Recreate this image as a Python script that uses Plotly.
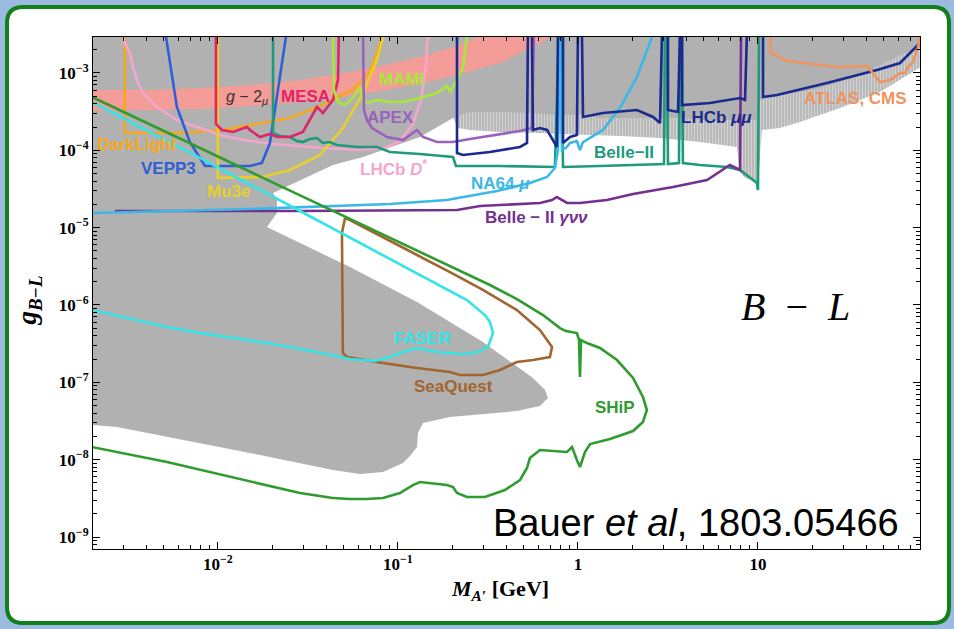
import numpy as np
import plotly.graph_objects as go

# Curves are tabulated as (log10(M_A' / GeV), log10(g_B-L)) pairs.

# excluded parameter space (solid grey) and the fluctuating bump-hunt region below it
EXCLUDED = [(-2.70, -2.50), (1.95, -2.50), (1.95, -2.638), (1.789, -2.767), (1.678, -2.897),
            (1.567, -3.026), (1.456, -3.117), (1.344, -3.194), (1.233, -3.246), (1.122, -3.285),
            (1.039, -3.311), (1.011, -3.349), (0.994, -3.608), (0.678, -3.608), (0.567, -3.582),
            (0.122, -3.582), (0.028, -3.543), (-0.100, -3.543), (-0.267, -3.518), (-0.433, -3.505),
            (-0.600, -3.505), (-0.656, -3.543), (-0.694, -3.582), (-0.878, -3.828), (-1.194, -4.087),
            (-1.361, -4.190), (-1.544, -4.384), (-1.694, -4.552), (-1.672, -4.643), (-1.672, -4.811),
            (-1.728, -4.992), (-1.544, -5.199), (-1.267, -5.509), (-0.894, -5.962), (-0.528, -6.479),
            (-0.250, -6.944), (-0.183, -7.100), (-0.167, -7.203), (-0.211, -7.307), (-0.339, -7.371),
            (-0.528, -7.410), (-0.711, -7.449), (-0.861, -7.526), (-0.889, -7.656), (-0.894, -7.837),
            (-0.933, -7.953), (-0.972, -8.044), (-1.083, -8.160), (-1.211, -8.186), (-1.361, -8.134),
            (-1.822, -7.914), (-2.561, -7.578), (-2.70, -7.552)]

EXCLUDED_FLUCT = [(-0.711, -2.50), (1.95, -2.50), (1.95, -2.858), (1.789, -3.091), (1.678, -3.246),
                  (1.567, -3.349), (1.456, -3.453), (1.344, -3.543), (1.233, -3.634), (1.122, -3.712),
                  (1.022, -3.737), (1.000, -4.410), (0.928, -4.358), (0.900, -4.281), (0.883, -3.957),
                  (0.678, -3.893), (0.456, -3.841), (0.233, -3.815), (0.028, -3.802), (-0.100, -3.789),
                  (-0.211, -3.776), (-0.433, -3.763), (-0.600, -3.737), (-0.667, -3.712), (-0.694, -3.582)]

# muon g-2 preferred band
G2_UPPER = [(-2.70, -3.220), (-2.378, -3.220), (-2.100, -3.194), (-1.822, -3.155), (-1.544, -3.091),
            (-1.322, -3.013), (-1.100, -2.910), (-0.878, -2.793), (-0.656, -2.638), (-0.489, -2.470)]
G2_LOWER = [(-0.100, -2.470), (-0.267, -2.677), (-0.433, -2.871), (-0.656, -3.013), (-0.878, -3.142),
            (-1.100, -3.233), (-1.322, -3.311), (-1.544, -3.375), (-1.822, -3.427), (-2.100, -3.466),
            (-2.378, -3.479), (-2.70, -3.492)]

DARKLIGHT = [(-2.517, -2.45), (-2.517, -3.776), (-2.211, -3.776), (-1.972, -3.737), (-1.783, -3.660),
             (-1.600, -3.582), (-1.433, -3.427), (-1.250, -3.220), (-1.156, -2.987), (-1.083, -2.535),
             (-1.072, -2.45)]

VEPP3 = [(-2.294, -2.45), (-2.228, -3.440), (-2.156, -3.893), (-2.072, -4.203), (-1.822, -4.203),
         (-1.756, -4.164), (-1.711, -3.905), (-1.672, -3.311), (-1.617, -2.45)]

MESA = [(-2.011, -2.45), (-2.011, -3.660), (-1.978, -3.737), (-1.917, -3.763), (-1.839, -3.699),
        (-1.822, -3.737), (-1.767, -3.828), (-1.711, -3.789), (-1.672, -3.828), (-1.600, -3.828),
        (-1.528, -3.763), (-1.450, -3.440), (-1.417, -3.518), (-1.361, -3.349), (-1.333, -3.091),
        (-1.328, -2.45)]

MU3E = [(-2.000, -2.45), (-2.000, -4.358), (-1.756, -4.345), (-1.600, -4.255), (-1.433, -4.061),
        (-1.306, -3.712), (-1.194, -3.259), (-1.117, -2.832), (-1.072, -2.45)]

LHCB_DSTAR = [(-2.533, -2.45), (-2.517, -2.612), (-2.489, -2.742), (-2.472, -2.923), (-2.450, -3.091),
              (-2.417, -3.259), (-2.339, -3.440), (-2.228, -3.608), (-2.100, -3.712), (-1.972, -3.815),
              (-1.822, -3.880), (-1.694, -3.918), (-1.417, -3.970), (-1.211, -3.996), (-1.072, -3.970),
              (-0.989, -3.880), (-0.917, -3.660), (-0.872, -3.349), (-0.844, -2.897), (-0.833, -2.45)]

BELLE2 = [(-1.694, -2.45), (-1.694, -3.776), (-1.656, -3.815), (-1.600, -3.828), (-1.561, -3.880),
          (-1.528, -3.893), (-1.489, -3.854), (-1.450, -3.841), (-1.417, -3.905), (-1.378, -3.893),
          (-1.339, -3.931), (-1.228, -3.957), (-1.117, -3.957), (-1.044, -4.022), (-0.878, -4.048),
          (-0.694, -4.087), (-0.678, -4.203), (-0.433, -4.203), (-0.128, -4.216), (-0.106, -2.45),
          (-0.094, -2.45), (-0.083, -4.216), (0.122, -4.203), (0.344, -4.190), (0.478, -4.177),
          (0.483, -2.45), (0.494, -2.45), (0.500, -4.177), (0.561, -4.164), (0.567, -2.45),
          (0.578, -2.45), (0.583, -4.164), (0.678, -4.190), (0.828, -4.216), (0.900, -4.255),
          (0.994, -4.423), (1.000, -4.513), (1.006, -2.45)]

NA64_MU = [(-2.70, -4.811), (-1.822, -4.759), (-1.044, -4.694), (-0.728, -4.643), (-0.450, -4.526),
           (-0.267, -4.423), (-0.172, -4.345), (-0.128, -4.229), (-0.111, -3.996), (-0.100, -2.573),
           (-0.089, -3.996), (-0.067, -3.970), (-0.044, -3.905), (-0.006, -3.880), (0.011, -3.996),
           (0.028, -3.893), (0.139, -3.737), (0.233, -3.453), (0.328, -3.052), (0.411, -2.535),
           (0.456, -2.315)]

BELLE2_INV = [(-2.572, -4.785), (-1.544, -4.785), (-0.672, -4.772), (-0.544, -4.720), (-0.211, -4.681),
              (-0.144, -4.643), (-0.117, -4.604), (-0.061, -4.681), (0.011, -4.681), (0.161, -4.643),
              (0.306, -4.565), (0.528, -4.474), (0.717, -4.384), (0.844, -4.190), (0.900, -4.255),
              (0.906, -2.45)]

APEX = [(-1.194, -2.45), (-1.189, -3.479), (-1.172, -3.608), (-1.144, -3.712), (-1.061, -3.828),
        (-0.972, -3.867), (-0.894, -3.737), (-0.861, -3.828), (-0.783, -3.893), (-0.694, -3.893),
        (-0.600, -3.854), (-0.433, -3.789), (-0.322, -3.750), (-0.256, -3.712), (-0.244, -2.45)]

MAMI = [(-1.361, -2.45), (-1.356, -3.220), (-1.333, -3.375), (-1.294, -3.414), (-1.250, -3.324),
        (-1.211, -3.181), (-1.194, -3.388), (-1.156, -3.375), (-1.117, -3.349), (-1.044, -3.375),
        (-0.972, -3.375), (-0.878, -3.324), (-0.783, -3.259), (-0.728, -3.168), (-0.711, -3.246),
        (-0.672, -3.091), (-0.639, -2.923), (-0.611, -2.45)]

LHCB_MUMU = [(-0.672, -2.45), (-0.672, -4.035), (-0.639, -4.061), (-0.489, -4.022), (-0.322, -3.957),
             (-0.283, -3.905), (-0.278, -2.45), (-0.256, -2.45), (-0.250, -3.737), (-0.211, -3.712),
             (-0.172, -3.737), (-0.139, -3.867), (-0.117, -3.957), (-0.111, -2.45), (-0.083, -2.45),
             (-0.083, -3.905), (-0.044, -3.828), (-0.006, -3.802), (0.0, -2.45), (0.022, -2.45),
             (0.028, -3.569), (0.139, -3.518), (0.328, -3.479), (0.417, -3.569), (0.456, -3.647),
             (0.467, -2.45), (0.500, -2.45), (0.500, -3.479), (0.556, -3.505), (0.567, -2.45),
             (0.578, -2.45), (0.578, -3.414), (0.733, -3.388), (0.900, -3.324), (0.928, -3.349),
             (0.939, -2.45), (1.028, -2.45), (1.028, -3.311), (1.106, -3.285), (1.383, -3.130),
             (1.661, -2.961), (1.789, -2.871), (1.861, -2.703), (1.900, -2.612)]

ATLAS_CMS = [(1.067, -2.45), (1.072, -2.742), (1.161, -2.845), (1.289, -2.884), (1.439, -2.923),
             (1.606, -2.910), (1.639, -3.000), (1.678, -3.117), (1.733, -3.091), (1.789, -3.000),
             (1.817, -3.000), (1.833, -2.923), (1.861, -2.858), (1.889, -2.664), (1.900, -2.535)]

SHIP = [(-2.70, -3.311), (-2.100, -3.970), (-1.544, -4.578), (-0.989, -5.186), (-0.656, -5.548),
        (-0.489, -5.742), (-0.339, -5.923), (-0.194, -6.130), (-0.100, -6.298), (-0.067, -6.337),
        (-0.006, -6.363), (0.006, -6.453), (0.011, -6.932), (0.017, -6.453), (0.050, -6.492),
        (0.122, -6.556), (0.217, -6.712), (0.306, -6.944), (0.361, -7.190), (0.383, -7.358),
        (0.361, -7.513), (0.306, -7.630), (0.178, -7.733), (0.067, -7.798), (0.039, -7.901),
        (0.011, -8.095), (-0.006, -8.005), (-0.033, -7.837), (-0.061, -7.901), (-0.211, -7.875),
        (-0.267, -7.979), (-0.283, -8.108), (-0.322, -8.263), (-0.406, -8.393), (-0.517, -8.483),
        (-0.617, -8.483), (-0.672, -8.431), (-0.694, -8.354), (-0.728, -8.328), (-0.878, -8.289),
        (-0.917, -8.328), (-0.989, -8.431), (-1.083, -8.496), (-1.172, -8.509), (-1.267, -8.509),
        (-1.361, -8.496), (-1.544, -8.431), (-1.917, -8.225), (-2.283, -8.031), (-2.70, -7.837)]

FASER = [(-2.70, -3.375), (-2.100, -4.099), (-1.544, -4.785), (-0.894, -5.587), (-0.617, -5.936),
         (-0.517, -6.130), (-0.489, -6.220), (-0.472, -6.363), (-0.500, -6.544), (-0.556, -6.608),
         (-0.639, -6.634), (-0.783, -6.608), (-0.894, -6.556), (-0.972, -6.608), (-1.044, -6.673),
         (-1.128, -6.725), (-1.267, -6.699), (-1.450, -6.608), (-1.728, -6.492), (-2.100, -6.363),
         (-2.283, -6.285), (-2.70, -6.065)]

SEAQUEST = [(-1.294, -4.875), (-1.311, -5.069), (-1.306, -6.621), (-1.283, -6.673), (-1.083, -6.750),
            (-0.894, -6.815), (-0.711, -6.867), (-0.656, -6.906), (-0.528, -6.906), (-0.433, -6.841),
            (-0.339, -6.737), (-0.250, -6.712), (-0.156, -6.673), (-0.144, -6.544), (-0.211, -6.324),
            (-0.339, -6.065), (-0.528, -5.806), (-0.711, -5.574), (-0.894, -5.354), (-1.083, -5.121),
            (-1.267, -4.901), (-1.294, -4.875)]

X_TICKS = [0.01, 0.1, 1, 10]
X_TICK_TEXT = ["10<sup>−2</sup>", "10<sup>−1</sup>", "1", "10"]
Y_TICKS = [1e-9, 1e-8, 1e-7, 1e-6, 1e-5, 1e-4, 1e-3]
Y_TICK_TEXT = ["10<sup>−9</sup>", "10<sup>−8</sup>", "10<sup>−7</sup>", "10<sup>−6</sup>",
               "10<sup>−5</sup>", "10<sup>−4</sup>", "10<sup>−3</sup>"]


def xy(pairs):
    a = np.array(pairs, dtype=float)
    return 10 ** a[:, 0], 10 ** a[:, 1]


fig = go.Figure()


def add_fill(pairs, color, pattern=None):
    x, y = xy(pairs)
    kw = dict(fillpattern=pattern) if pattern else {}
    fig.add_trace(go.Scatter(x=x, y=y, mode="lines", fill="toself", fillcolor=color,
                             line=dict(width=0), hoverinfo="skip", showlegend=False, **kw))


def add_line(pairs, color, width=2.6):
    x, y = xy(pairs)
    fig.add_trace(go.Scatter(x=x, y=y, mode="lines", line=dict(color=color, width=width),
                             hoverinfo="skip", showlegend=False))


# fluctuating limit edge: grey with fine white vertical streaks
add_fill(EXCLUDED_FLUCT, "#b1b1b1",
         pattern=dict(shape="|", bgcolor="#b9b9b9", fgcolor="#f2f2f2", size=3, solidity=0.3))
add_fill(EXCLUDED, "#b1b1b1")
add_fill(G2_UPPER + G2_LOWER, "#f39c98")

add_line(DARKLIGHT, "#f5a81c")
add_line(LHCB_DSTAR, "#f6a5cf")
add_line(VEPP3, "#2f5fd6")
add_line(MU3E, "#e8d02a")
add_line(BELLE2, "#1f9a7c")
add_line(MESA, "#e0236c")
add_line(MAMI, "#a8e83a")
add_line(APEX, "#9a62bd")
add_line(BELLE2_INV, "#74308f")
add_line(NA64_MU, "#3cb8e6")
add_line(LHCB_MUMU, "#1b2a8e")
add_line(ATLAS_CMS, "#f0935c")
add_line(SEAQUEST, "#a1652f")
add_line(FASER, "#33e3e6")
add_line(SHIP, "#2e9c2e")

# experiment labels (positions in log10 data coordinates)
LBL = "Liberation Sans"
labels = [
    ("<b>DarkLight</b>", -2.45, -3.93, "#f5a81c"),
    ("<b>VEPP3</b>", -2.272, -4.23, "#2f5fd6"),
    ("<b>Mu3e</b>", -1.944, -4.53, "#e8d02a"),
    ("<b>MESA</b>", -1.511, -3.30, "#e0236c"),
    ("<b>MAMI</b>", -0.983, -3.09, "#a8e83a"),
    ("<b>APEX</b>", -1.039, -3.57, "#9a62bd"),
    ("<b>LHCb <i>D</i><sup>*</sup></b>", -1.022, -4.23, "#f6a5cf"),
    ("<b>NA64 <i>μ</i></b>", -0.428, -4.423, "#3cb8e6"),
    ("<b>Belle−II</b>", 0.256, -4.022, "#1f9a7c"),
    ("<b>LHCb <i>μμ</i></b>", 0.772, -3.582, "#1b2a8e"),
    ("<b>ATLAS, CMS</b>", 1.544, -3.324, "#f0935c"),
    ("<b>Belle − II <i>γνν</i></b>", -0.228, -4.875, "#74308f"),
    ("<b>FASER</b>", -0.861, -6.427, "#33e3e6"),
    ("<b>SeaQuest</b>", -0.689, -7.06, "#a1652f"),
    ("<b>SHiP</b>", 0.206, -7.319, "#2e9c2e"),
]
for text, lx, ly, col in labels:
    fig.add_annotation(x=lx, y=ly, xref="x", yref="y", text=text, showarrow=False,
                       xanchor="center", yanchor="middle",
                       font=dict(family=LBL, size=17, color=col))

fig.add_annotation(x=-1.839, y=-3.311, xref="x", yref="y", showarrow=False,
                   xanchor="center", yanchor="middle",
                   text="<i>g</i> − 2<sub><i>μ</i></sub>",
                   font=dict(family=LBL, size=16, color="#333333"))

fig.add_annotation(x=0.850, y=0.4727, xref="paper", yref="paper", showarrow=False,
                   xanchor="center", yanchor="middle",
                   text="<i>B</i>\u00a0\u00a0−\u00a0\u00a0<i>L</i>",
                   font=dict(family="Liberation Serif", size=40, color="black"))

fig.add_annotation(x=0.729, y=0.0508, xref="paper", yref="paper", showarrow=False,
                   xanchor="center", yanchor="middle",
                   text="Bauer <i>et al</i>, 1803.05466",
                   font=dict(family=LBL, size=38, color="black"))

# axis titles
fig.add_annotation(x=-0.077, y=0.486, xref="paper", yref="paper", showarrow=False, textangle=-90,
                   xanchor="center", yanchor="middle",
                   text="<b><i>g</i><sub><i>B−L</i></sub></b>",
                   font=dict(family="Liberation Serif", size=27, color="black"))
fig.add_annotation(x=0.492, y=-0.080, xref="paper", yref="paper", showarrow=False,
                   xanchor="center", yanchor="middle",
                   text="<b><i>M</i><sub><i>A′</i></sub> [GeV]</b>",
                   font=dict(family="Liberation Serif", size=22, color="black"))

# rounded green frame around the figure
rx, ry = 16 / 827, 16 / 512
x0, x1, y0, y1 = -0.1040, 1.0351, -0.1445, 1.0586
frame = (f"M {x0 + rx},{y1} L {x1 - rx},{y1} Q {x1},{y1} {x1},{y1 - ry} "
         f"L {x1},{y0 + ry} Q {x1},{y0} {x1 - rx},{y0} "
         f"L {x0 + rx},{y0} Q {x0},{y0} {x0},{y0 + ry} "
         f"L {x0},{y1 - ry} Q {x0},{y1} {x0 + rx},{y1} Z")
fig.add_shape(type="path", path=frame, xref="paper", yref="paper", layer="below",
              fillcolor="white", line=dict(color="#12801a", width=4))

minor_x = [k * 10.0 ** n for n in range(-3, 2) for k in range(2, 10)]
minor_y = [k * 10.0 ** n for n in range(-10, -2) for k in range(2, 10)]

tickfont = dict(family="Liberation Serif", size=17, color="black")
axis_common = dict(type="log", showgrid=False, zeroline=False, showline=True, linecolor="black",
                   linewidth=1, mirror="allticks", ticks="inside", ticklen=7, tickwidth=1,
                   tickcolor="black", tickmode="array", tickfont=tickfont)

fig.update_xaxes(range=[-2.694, 1.9], tickvals=X_TICKS,
                 ticktext=[f"<b>{t}</b>" for t in X_TICK_TEXT],
                 minor=dict(tickmode="array", tickvals=minor_x, ticks="inside", ticklen=4,
                            tickcolor="black", showgrid=False),
                 **axis_common)
fig.update_yaxes(range=[-9.155, -2.535], tickvals=Y_TICKS,
                 ticktext=[f"<b>{t}</b>" for t in Y_TICK_TEXT],
                 minor=dict(tickmode="array", tickvals=minor_y, ticks="inside", ticklen=4,
                            tickcolor="black", showgrid=False),
                 **axis_common)

fig.update_layout(width=954, height=629, margin=dict(l=93, r=34, t=37, b=80),
                  paper_bgcolor="#9bbbe0", plot_bgcolor="white", showlegend=False)

fig.write_html("out.html")
